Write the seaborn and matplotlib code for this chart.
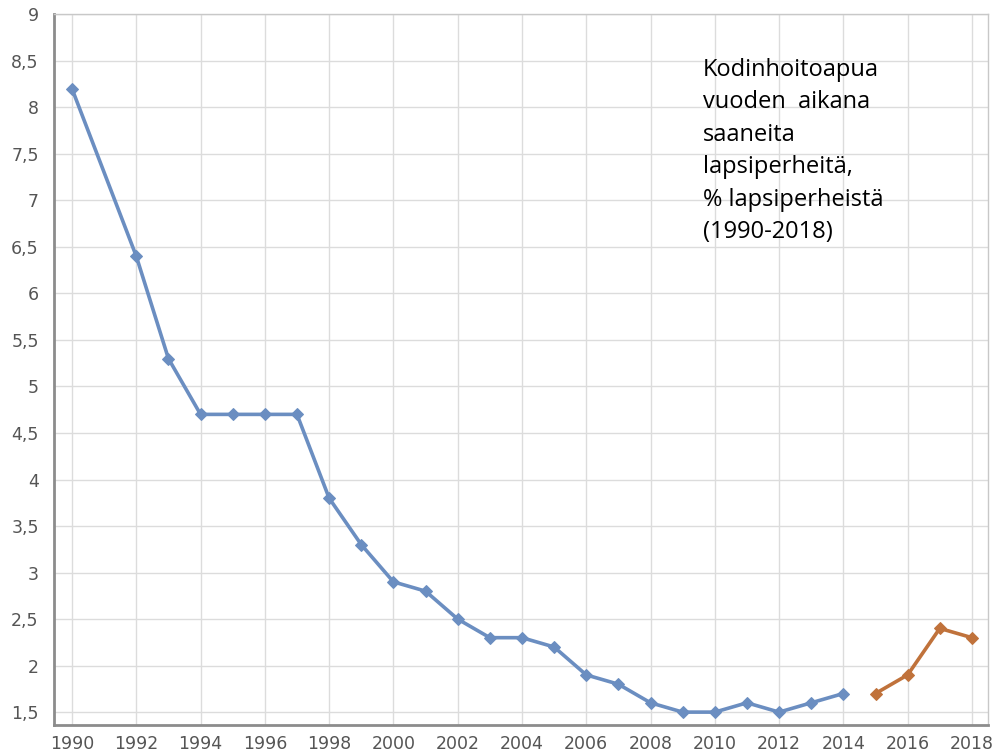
import matplotlib
matplotlib.use("Agg")
import matplotlib.pyplot as plt
from matplotlib.ticker import FuncFormatter, MultipleLocator
import seaborn as sns
import pandas as pd

years_a = [1990, 1992, 1993, 1994, 1995, 1996, 1997, 1998, 1999, 2000, 2001, 2002,
           2003, 2004, 2005, 2006, 2007, 2008, 2009, 2010, 2011, 2012, 2013, 2014]
values_a = [8.2, 6.4, 5.3, 4.7, 4.7, 4.7, 4.7, 3.8, 3.3, 2.9, 2.8, 2.5,
            2.3, 2.3, 2.2, 1.9, 1.8, 1.6, 1.5, 1.5, 1.6, 1.5, 1.6, 1.7]
years_b = [2015, 2016, 2017, 2018]
values_b = [1.7, 1.9, 2.4, 2.3]
annotation = "Kodinhoitoapua\nvuoden  aikana\nsaaneita\nlapsiperheitä,\n% lapsiperheistä\n(1990-2018)"

sns.set_style("white")
fig = plt.figure(figsize=(10, 7.53), dpi=100)
ax = fig.add_axes([0.054, 0.037, 0.934, 0.944])

blue = "#6B8EC1"
orange = "#C0723B"
sns.lineplot(x=years_a, y=values_a, ax=ax, color=blue, lw=2.6, marker="D",
             markersize=6, markeredgecolor=blue, markerfacecolor=blue)
sns.lineplot(x=years_b, y=values_b, ax=ax, color=orange, lw=2.6, marker="D",
             markersize=6, markeredgecolor=orange, markerfacecolor=orange)

ax.set_xlim(1989.44, 2018.5)
ax.set_ylim(1.36, 9.0)
ax.xaxis.set_major_locator(MultipleLocator(2))
ax.yaxis.set_major_locator(MultipleLocator(0.5))
ax.yaxis.set_major_formatter(FuncFormatter(lambda v, p: ("%g" % v).replace(".", ",")))
ax.xaxis.set_major_formatter(FuncFormatter(lambda v, p: "%d" % v))

ax.grid(True, color="#DCDCDC", lw=1.0)
ax.set_axisbelow(True)
for s in ["top", "right"]:
    ax.spines[s].set_color("#C8C8C8")
    ax.spines[s].set_linewidth(1.0)
for s in ["left", "bottom"]:
    ax.spines[s].set_color("#8C8C8C")
    ax.spines[s].set_linewidth(2.0)
ax.tick_params(axis="both", colors="#8C8C8C", labelcolor="#555555", length=5,
               width=1, labelsize=12.5, direction="out")
ax.tick_params(axis="y", pad=6)
ax.tick_params(axis="x", pad=2)
ax.set_xlabel("")
ax.set_ylabel("")

ax.text(0.703, 0.923, annotation, transform=fig.transFigure, ha="left", va="top",
        fontsize=17, family=["Open Sans", "DejaVu Sans"], color="black",
        linespacing=1.47)

fig.savefig("out.png", dpi=100)
